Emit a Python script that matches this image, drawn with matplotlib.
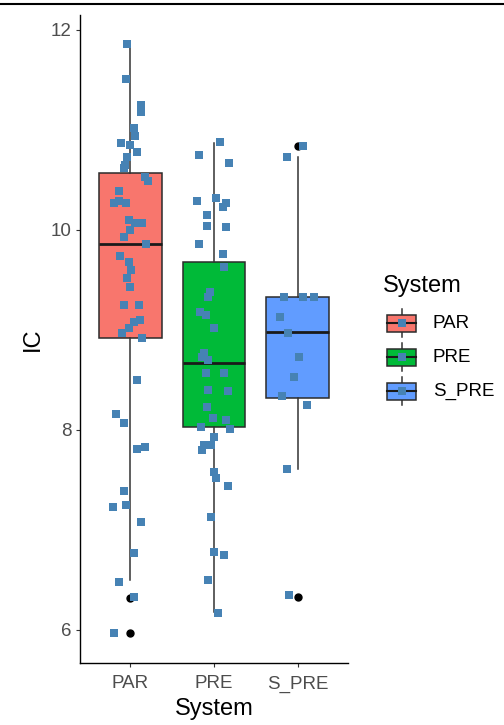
import matplotlib.pyplot as plt
from matplotlib.lines import Line2D
from matplotlib.patches import Rectangle

plt.rcParams['font.family'] = ['Liberation Sans', 'DejaVu Sans']

# categories and colours
categories = ['PAR', 'PRE', 'S_PRE']
fills = ['#F8766D', '#00BA38', '#619CFF']
point_color = '#4682B4'

# box statistics
q1 = [8.92, 8.03, 8.32]
median = [9.86, 8.67, 8.98]
q3 = [10.57, 9.68, 9.33]
whis_lo = [6.50, 6.18, 7.61]
whis_hi = [11.86, 10.87, 10.73]
outliers = [[5.97, 6.32], [], [10.84, 6.33]]

# jittered points: IC value and horizontal jitter (category units)
par_ic = [11.86, 11.51, 11.25, 11.18, 11.02, 10.94, 10.87, 10.85, 10.78, 10.73,
          10.65, 10.62, 10.53, 10.49, 10.39, 10.27, 10.29, 10.27, 10.10, 10.07,
          10.07, 10.00, 9.93, 9.86, 9.74, 9.68, 9.60, 9.52, 9.43, 9.25,
          9.25, 9.08, 9.10, 9.02, 8.97, 8.92, 8.50, 8.16, 8.07, 7.81,
          7.83, 7.39, 7.23, 7.25, 7.08, 6.77, 6.48, 6.33, 5.97]
par_jit = [-0.04, -0.05, 0.13, 0.13, 0.04, 0.06, -0.11, 0.00, 0.08, -0.04,
           -0.06, -0.08, 0.18, 0.21, -0.13, -0.20, -0.13, -0.05, -0.02, 0.06,
           0.14, 0.00, -0.07, 0.19, -0.12, -0.02, 0.01, -0.04, 0.00, -0.08,
           0.10, 0.04, 0.12, -0.02, -0.10, 0.14, 0.08, -0.17, -0.08, 0.08,
           0.18, -0.08, -0.21, -0.05, 0.13, 0.04, -0.13, 0.04, -0.20]

pre_ic = [10.88, 10.75, 10.67, 10.29, 10.32, 10.27, 10.23, 10.15, 10.04, 10.03,
          9.86, 9.76, 9.63, 9.38, 9.33, 9.18, 9.15, 9.02, 8.77, 8.73,
          8.70, 8.57, 8.57, 8.40, 8.39, 8.23, 8.12, 8.10, 8.03, 8.01,
          7.93, 7.85, 7.85, 7.80, 7.58, 7.52, 7.44, 7.13, 6.78, 6.75,
          6.50, 6.17]
pre_jit = [0.07, -0.18, 0.18, -0.20, 0.02, 0.14, 0.11, -0.08, -0.08, 0.14,
           -0.18, 0.11, 0.12, -0.05, -0.07, -0.17, -0.10, 0.00, -0.12, -0.14,
           -0.07, -0.10, 0.12, -0.07, 0.17, -0.08, -0.01, 0.14, -0.16, 0.19,
           0.00, -0.12, -0.04, -0.14, 0.00, 0.02, 0.17, -0.04, 0.00, 0.12,
           -0.07, 0.05]

spre_ic = [10.84, 10.73, 9.33, 9.33, 9.33, 9.13, 8.97, 8.73, 8.53, 8.34,
           8.25, 7.61, 6.35]
spre_jit = [0.06, -0.13, -0.16, 0.06, 0.19, -0.21, -0.12, 0.02, -0.04, -0.19,
            0.11, -0.13, -0.10]

W, H = 504, 725
fig = plt.figure(figsize=(W / 100, H / 100), dpi=100)
ax = fig.add_axes([80 / W, 1 - 663 / H, (348 - 80) / W, (663 - 15) / H])

stats = []
for i, name in enumerate(categories):
    stats.append(dict(label=name, q1=q1[i], med=median[i], q3=q3[i],
                      whislo=whis_lo[i], whishi=whis_hi[i], fliers=outliers[i]))

bp = ax.bxp(stats, positions=[1, 2, 3], widths=0.75, patch_artist=True,
            showcaps=False,
            boxprops=dict(linewidth=1.1, edgecolor='#2b2b2b'),
            whiskerprops=dict(color='#333333', linewidth=1.1),
            medianprops=dict(color='#1a1a1a', linewidth=2.0),
            flierprops=dict(marker='o', markerfacecolor='black',
                            markeredgecolor='black', markersize=5))
for patch, c in zip(bp['boxes'], fills):
    patch.set_facecolor(c)

# jittered points
for i, (ic, jit) in enumerate([(par_ic, par_jit), (pre_ic, pre_jit),
                               (spre_ic, spre_jit)]):
    xs = [i + 1 + j for j in jit]
    ax.plot(xs, ic, 's', color=point_color, markersize=5.5,
            markeredgewidth=0, zorder=4)

ax.set_xlim(0.4, 3.6)
ax.set_ylim(5.67, 12.15)
ax.set_yticks([6, 8, 10, 12])
ax.set_xticks([1, 2, 3])
ax.set_xticklabels(categories)
for s in ['top', 'right']:
    ax.spines[s].set_visible(False)
for s in ['left', 'bottom']:
    ax.spines[s].set_linewidth(1.0)
ax.tick_params(length=3, width=0.8, color='#333333', labelcolor='#4D4D4D',
               labelsize=13.5, pad=3)
ax.tick_params(axis='x', pad=6)
ax.set_xlabel('System', fontsize=17, labelpad=4)
ax.set_ylabel('IC', fontsize=17, labelpad=5)

# legend drawn in figure pixel space
lg = fig.add_axes([0, 0, 1, 1], zorder=-1)
lg.set_xlim(0, W)
lg.set_ylim(H, 0)
lg.axis('off')
lg.text(383, 286, 'System', fontsize=17, va='center', ha='left')
for k, (name, c) in enumerate(zip(categories, fills)):
    cy = 323 + 34 * k
    lg.plot([401.5, 401.5], [cy - 14, cy + 14], color='#333333', lw=1.1)
    lg.add_patch(Rectangle((387, cy - 8.5), 29, 17, facecolor=c,
                           edgecolor='#2b2b2b', lw=1.1, zorder=3))
    lg.plot([387, 416], [cy, cy], color='#1a1a1a', lw=1.5, zorder=4)
    lg.plot(401.5, cy, 's', color=point_color, markersize=5.5,
            markeredgewidth=0, zorder=5)
    lg.text(433, cy, name, fontsize=13.5, color='black', va='center',
            ha='left')

# thin rule across the top of the image
fig.add_artist(Line2D([0, 1], [1 - 4 / H, 1 - 4 / H], color='black', lw=1.5))

fig.savefig('out.png', dpi=100, facecolor='white')
